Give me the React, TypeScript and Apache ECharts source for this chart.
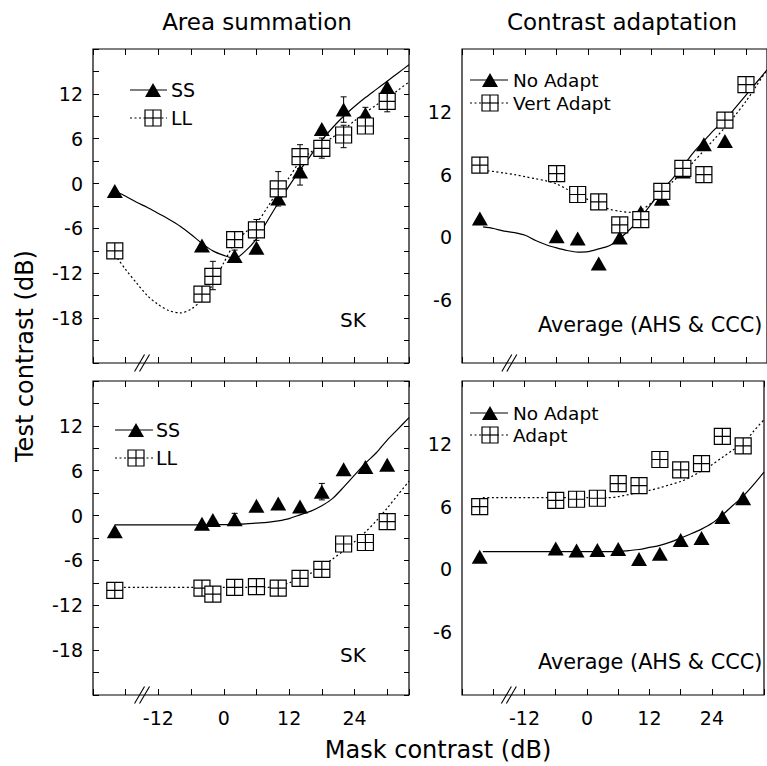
import React, { useEffect, useRef } from 'react';
import * as echarts from 'echarts';

const FONT = 'DejaVu Sans';

// ---------- tick labels ----------
const xTickLabels = [-12, 0, 12, 24];
const yTickLabelsArea = [-18, -12, -6, 0, 6, 12];
const yTickLabelsAdapt = [-6, 0, 6, 12];
const breakAt = [-15];

// ---------- fitted-curve sample positions (mask contrast, dB) ----------
const curveX = [-20, -18, -16, -14, -12, -10, -8, -6, -4, -2, 0, 2, 4, 6, 8, 10, 12, 14, 16, 18, 20, 22, 24, 26, 28, 30, 32, 34];

// ---------- Area summation, top (SK) ----------
const areaTopSSx = [-20, -4, 2, 6, 10, 14, 18, 22, 26, 30];
const areaTopSSy = [-1.0, -8.3, -9.7, -8.6, -2.0, 1.6, 7.3, 9.9, 9.3, 12.9];
const areaTopLLx = [-20, -4, -2, 2, 6, 10, 14, 18, 22, 26, 30];
const areaTopLLy = [-9.0, -14.8, -12.4, -7.5, -6.2, -0.7, 3.6, 4.7, 6.5, 7.7, 11.0];
const areaTopSSfit = [-1.0, -1.7, -2.5, -3.2, -4.0, -4.8, -5.7, -6.8, -8.0, -9.0, -9.6, -10.0, -9.0, -7.4, -5.0, -2.6, -0.3, 1.8, 3.8, 5.8, 7.5, 9.0, 10.3, 11.5, 12.6, 13.7, 14.8, 15.9];
const areaTopLLfit = [-9.5, -11.5, -13.3, -15.0, -16.2, -17.0, -17.3, -16.8, -15.5, -13.5, -10.6, -8.0, -6.5, -5.3, -3.2, -0.9, 0.8, 3.0, 4.2, 5.2, 6.2, 7.2, 8.4, 9.5, 10.5, 11.4, 12.5, 13.6];
const areaTopSSerr = [[2, -10.5, -8.9], [14, -0.2, 3.4], [22, 8.2, 11.6], [26, 8.6, 10.2]];
const areaTopLLerr = [[-2, -14.2, -10.4], [6, -7.6, -4.8], [10, -3.0, 1.6], [14, 2.0, 5.2], [18, 3.4, 6.1], [22, 4.8, 7.8], [30, 9.6, 11.9]];

// ---------- Area summation, bottom (SK) ----------
const areaBotSSx = [-20, -4, -2, 2, 6, 10, 14, 18, 22, 26, 30];
const areaBotSSy = [-2.1, -1.1, -0.6, -0.5, 1.3, 1.6, 1.2, 3.2, 6.2, 6.5, 6.8];
const areaBotLLx = [-20, -4, -2, 2, 6, 10, 14, 18, 22, 26, 30];
const areaBotLLy = [-10.0, -9.7, -10.5, -9.6, -9.5, -9.7, -8.4, -7.2, -3.8, -3.6, -0.8];
const areaBotSSfit = [-1.25, -1.25, -1.25, -1.25, -1.25, -1.25, -1.25, -1.25, -1.25, -1.2, -1.2, -1.15, -1.1, -1.0, -0.9, -0.7, -0.4, 0.1, 0.6, 1.3, 2.3, 3.8, 5.4, 7.0, 8.4, 10.1, 11.6, 13.1];
const areaBotLLfit = [-9.6, -9.6, -9.6, -9.6, -9.6, -9.6, -9.6, -9.6, -9.6, -9.6, -9.6, -9.6, -9.6, -9.6, -9.6, -9.5, -9.0, -8.5, -7.7, -6.8, -5.8, -4.7, -3.5, -2.2, -0.7, 1.0, 2.8, 4.6];
const areaBotSSerr = [[2, -0.8, 0.3], [18, 2.1, 4.3]];
const areaBotLLerr = [[10, -10.4, -9.0]];

// ---------- Contrast adaptation, top (vertical adapt) ----------
const adaptTopNoX = [-20.6, -6, -2, 2, 6, 10, 14, 18, 22, 26];
const adaptTopNoY = [1.8, 0.1, -0.1, -2.5, 0.0, 2.4, 3.7, 6.3, 8.9, 9.2];
const adaptTopAdX = [-20.6, -6, -2, 2, 6, 10, 14, 18, 22, 26, 30];
const adaptTopAdY = [6.9, 6.1, 4.1, 3.4, 1.2, 1.7, 4.4, 6.6, 6.0, 11.2, 14.6];
const adaptTopNoFit = [1.0, 0.85, 0.6, 0.45, 0.2, -0.3, -0.7, -1.0, -1.25, -1.4, -1.36, -1.1, -0.8, -0.1, 0.8, 1.9, 3.2, 4.5, 5.6, 6.8, 8.1, 9.2, 10.3, 11.2, 12.4, 13.6, 14.8, 16.0];
const adaptTopAdFit = [6.4, 6.3, 6.15, 6.0, 5.8, 5.6, 5.4, 5.1, 4.6, 4.1, 3.6, 3.1, 2.7, 2.5, 2.4, 2.6, 3.3, 4.3, 5.3, 6.2, 7.2, 8.3, 9.4, 10.5, 11.7, 13.0, 14.5, 16.0];

// ---------- Contrast adaptation, bottom (adapt) ----------
const adaptBotNoX = [-20.6, -6, -2, 2, 6, 10, 14, 18, 22, 26, 30];
const adaptBotNoY = [1.2, 2.0, 1.8, 1.85, 1.95, 1.0, 1.5, 2.8, 3.0, 5.0, 6.8];
const adaptBotAdX = [-20.6, -6, -2, 2, 6, 10, 14, 18, 22, 26, 30];
const adaptBotAdY = [6.0, 6.6, 6.7, 6.8, 8.2, 8.0, 10.5, 9.5, 10.1, 12.7, 11.8];
const adaptBotNoFit = [1.7, 1.7, 1.7, 1.7, 1.7, 1.7, 1.7, 1.7, 1.7, 1.7, 1.7, 1.7, 1.7, 1.7, 1.8, 1.9, 2.1, 2.3, 2.6, 3.0, 3.4, 3.85, 4.4, 5.2, 6.1, 7.0, 8.1, 9.3];
const adaptBotAdFit = [6.85, 6.85, 6.85, 6.85, 6.85, 6.85, 6.85, 6.85, 6.85, 6.85, 6.85, 6.85, 6.85, 6.95, 7.15, 7.35, 7.55, 7.8, 8.1, 8.4, 8.85, 9.4, 10.0, 10.7, 11.4, 12.0, 13.2, 14.3];

// ---------- layout ----------
const GRID_W = 316;
const GRID_H = 314;
const gridPos = [
  { left: 93, top: 49 },
  { left: 462, top: 49 },
  { left: 93, top: 381 },
  { left: 462, top: 381 },
];
const SQUARE = 'path://M0,0L16,0L16,16L0,16Z M8,0L8,16 M0,8L16,8';

const zip = (xs: number[], ys: number[]) => xs.map((x, i) => [x, ys[i]]);

function fitSeries(g: number, xs: number[], ys: number[], dotted: boolean) {
  return {
    type: 'line',
    xAxisIndex: g,
    yAxisIndex: g,
    data: zip(xs, ys),
    symbol: 'none',
    smooth: 0.3,
    clip: true,
    silent: true,
    z: 2,
    lineStyle: { color: '#000', width: 1.2, type: dotted ? [2, 2.5] : 'solid' },
  };
}

function triSeries(g: number, xs: number[], ys: number[]) {
  return {
    type: 'scatter',
    xAxisIndex: g,
    yAxisIndex: g,
    data: zip(xs, ys),
    symbol: 'triangle',
    symbolSize: [16, 14],
    silent: true,
    z: 4,
    itemStyle: { color: '#000', opacity: 1 },
  };
}

function sqSeries(g: number, xs: number[], ys: number[]) {
  return {
    type: 'scatter',
    xAxisIndex: g,
    yAxisIndex: g,
    data: zip(xs, ys),
    symbol: SQUARE,
    symbolSize: 16,
    silent: true,
    z: 5,
    itemStyle: { color: '#fff', borderColor: '#000', borderWidth: 1.2, opacity: 1 },
  };
}

function errSeries(g: number, data: number[][]) {
  return {
    type: 'custom',
    xAxisIndex: g,
    yAxisIndex: g,
    data,
    encode: { x: 0, y: [1, 2] },
    silent: true,
    z: 3,
    renderItem: (_p: any, api: any) => {
      const x = api.value(0);
      const a = api.coord([x, api.value(1)]);
      const b = api.coord([x, api.value(2)]);
      const w = 3;
      const st = { stroke: '#000', lineWidth: 1 };
      return {
        type: 'group',
        children: [
          { type: 'line', shape: { x1: a[0], y1: a[1], x2: b[0], y2: b[1] }, style: st },
          { type: 'line', shape: { x1: a[0] - w, y1: a[1], x2: a[0] + w, y2: a[1] }, style: st },
          { type: 'line', shape: { x1: b[0] - w, y1: b[1], x2: b[0] + w, y2: b[1] }, style: st },
        ],
      };
    },
  };
}

function breakSeries(g: number, yMin: number) {
  return {
    type: 'custom',
    xAxisIndex: g,
    yAxisIndex: g,
    data: breakAt.map((v) => [v, yMin]),
    encode: { x: 0, y: 1 },
    clip: false,
    silent: true,
    z: 10,
    renderItem: (_p: any, api: any) => {
      const p = api.coord([api.value(0), api.value(1)]);
      const mk = (dx: number) => ({
        type: 'line',
        shape: { x1: p[0] + dx - 5, y1: p[1] + 8.5, x2: p[0] + dx + 5, y2: p[1] - 8.5 },
        style: { stroke: '#000', lineWidth: 1.1 },
      });
      return { type: 'group', children: [mk(-2.5), mk(2.5)] };
    },
  };
}

// ---------- graphic helpers ----------
const txt = (x: number, y: number, text: string, size: number, align = 'left', extra: any = {}) => ({
  type: 'text',
  x,
  y,
  silent: true,
  ...extra,
  style: {
    text,
    fontSize: size,
    fontFamily: FONT,
    fill: '#000',
    align,
    verticalAlign: 'middle',
    textAlign: align,
    textVerticalAlign: 'middle',
  },
});
const tri = (cx: number, cy: number) => ({
  type: 'polygon',
  silent: true,
  shape: { points: [[cx, cy - 7], [cx - 8, cy + 7], [cx + 8, cy + 7]] },
  style: { fill: '#000' },
});
const sq = (cx: number, cy: number) => ({
  type: 'group',
  silent: true,
  children: [
    { type: 'rect', shape: { x: cx - 8, y: cy - 8, width: 16, height: 16 }, style: { fill: '#fff', stroke: '#000', lineWidth: 1.2 } },
    { type: 'line', shape: { x1: cx, y1: cy - 8, x2: cx, y2: cy + 8 }, style: { stroke: '#000', lineWidth: 1.2 } },
    { type: 'line', shape: { x1: cx - 8, y1: cy, x2: cx + 8, y2: cy }, style: { stroke: '#000', lineWidth: 1.2 } },
  ],
});
const seg = (x1: number, x2: number, y: number, dotted: boolean) => ({
  type: 'line',
  silent: true,
  shape: { x1, y1: y, x2, y2: y },
  style: { stroke: '#000', lineWidth: 1.2, lineDash: dotted ? [2, 2.5] : null },
});

function legendRows(x1: number, x2: number, mx: number, tx: number, y1: number, y2: number, t1: string, t2: string, size: number) {
  return [
    seg(x1, x2, y1, false),
    tri(mx, y1),
    txt(tx, y1, t1, size),
    seg(x1, x2, y2, true),
    sq(mx, y2),
    txt(tx, y2, t2, size),
  ];
}

function buildOption() {
  const grid = gridPos.map((p) => ({
    ...p,
    width: GRID_W,
    height: GRID_H,
    show: true,
    borderColor: '#000',
    borderWidth: 1.2,
    backgroundColor: 'transparent',
  }));

  const xCommon = {
    type: 'value',
    min: -24,
    max: 34,
    interval: 6,
    axisLine: { show: false, onZero: false },
    splitLine: { show: false },
    axisTick: { show: true, inside: true, length: 6, lineStyle: { color: '#000', width: 1 } },
  };
  const xAxis: any[] = [];
  for (let g = 0; g < 4; g++) {
    xAxis.push({
      ...xCommon,
      gridIndex: g,
      position: 'bottom',
      axisLabel: {
        show: g >= 2,
        formatter: (v: number) => (xTickLabels.includes(v) ? String(v) : ''),
        color: '#000',
        fontSize: 19,
        fontFamily: FONT,
        margin: 13,
      },
    });
  }
  for (let g = 0; g < 4; g++) {
    xAxis.push({ ...xCommon, gridIndex: g, position: 'top', axisLabel: { show: false } });
  }

  const yAxis: any[] = [];
  for (let g = 0; g < 4; g++) {
    const isArea = g % 2 === 0;
    const labels = isArea ? yTickLabelsArea : yTickLabelsAdapt;
    yAxis.push({
      type: 'value',
      gridIndex: g,
      position: 'left',
      min: isArea ? -24 : -12,
      max: 18,
      interval: isArea ? 3 : 6,
      axisLine: { show: false, onZero: false },
      splitLine: { show: false },
      axisTick: { show: isArea, inside: true, length: 6, lineStyle: { color: '#000', width: 1 } },
      axisLabel: {
        formatter: (v: number) => (labels.includes(v) ? String(v) : ''),
        color: '#000',
        fontSize: 19,
        fontFamily: FONT,
        margin: 10,
      },
    });
  }
  [0, 2].forEach((g) => {
    yAxis.push({
      type: 'value',
      gridIndex: g,
      position: 'right',
      min: -24,
      max: 18,
      interval: 3,
      axisLine: { show: false, onZero: false },
      splitLine: { show: false },
      axisTick: { show: true, inside: true, length: 5, lineStyle: { color: '#000', width: 1 } },
      axisLabel: { show: false },
    });
  });

  const series: any[] = [
    // Area summation top
    fitSeries(0, curveX, areaTopSSfit, false),
    fitSeries(0, curveX, areaTopLLfit, true),
    errSeries(0, areaTopSSerr),
    errSeries(0, areaTopLLerr),
    triSeries(0, areaTopSSx, areaTopSSy),
    sqSeries(0, areaTopLLx, areaTopLLy),
    breakSeries(0, -24),
    // Contrast adaptation top
    fitSeries(1, curveX, adaptTopNoFit, false),
    fitSeries(1, curveX, adaptTopAdFit, true),
    triSeries(1, adaptTopNoX, adaptTopNoY),
    sqSeries(1, adaptTopAdX, adaptTopAdY),
    breakSeries(1, -12),
    // Area summation bottom
    fitSeries(2, curveX, areaBotSSfit, false),
    fitSeries(2, curveX, areaBotLLfit, true),
    errSeries(2, areaBotSSerr),
    errSeries(2, areaBotLLerr),
    triSeries(2, areaBotSSx, areaBotSSy),
    sqSeries(2, areaBotLLx, areaBotLLy),
    breakSeries(2, -24),
    // Contrast adaptation bottom
    fitSeries(3, curveX, adaptBotNoFit, false),
    fitSeries(3, curveX, adaptBotAdFit, true),
    triSeries(3, adaptBotNoX, adaptBotNoY),
    sqSeries(3, adaptBotAdX, adaptBotAdY),
    breakSeries(3, -12),
  ];

  const graphic: any[] = [
    txt(257, 22, 'Area summation', 23, 'center'),
    txt(622, 22, 'Contrast adaptation', 23, 'center'),
    txt(438, 750, 'Mask contrast (dB)', 24, 'center'),
    txt(25, 356, 'Test contrast (dB)', 24, 'center', { rotation: Math.PI / 2 }),
    txt(353, 320, 'SK', 20, 'center'),
    txt(353, 655, 'SK', 20, 'center'),
    txt(538, 325, 'Average (AHS & CCC)', 20.8, 'left'),
    txt(538, 662, 'Average (AHS & CCC)', 20.8, 'left'),
    ...legendRows(130, 167, 153, 171, 90, 118, 'SS', 'LL', 19),
    ...legendRows(115, 153, 136, 156, 430, 458, 'SS', 'LL', 19),
    ...legendRows(470, 508, 490, 513, 80, 103, 'No Adapt', 'Vert Adapt', 18.5),
    ...legendRows(470, 508, 490, 513, 413, 435, 'No Adapt', 'Adapt', 18.5),
  ];

  return {
    animation: false,
    backgroundColor: '#fff',
    grid,
    xAxis,
    yAxis,
    series,
    graphic,
  };
}

export default function App() {
  const ref = useRef<HTMLDivElement>(null);
  useEffect(() => {
    if (!ref.current) return;
    const chart = echarts.init(ref.current, null, { renderer: 'svg' });
    chart.setOption(buildOption() as any);
    return () => chart.dispose();
  }, []);
  return (
    <div
      ref={ref}
      style={{ position: 'fixed', left: 0, top: 0, width: 767, height: 766, background: '#fff' }}
    />
  );
}
